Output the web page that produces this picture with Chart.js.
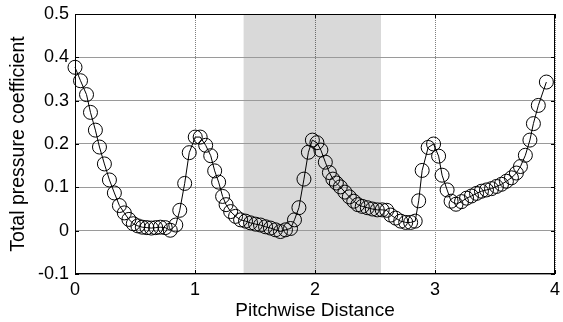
<!DOCTYPE html>
<html>
<head>
<meta charset="utf-8">
<script src="https://cdn.jsdelivr.net/npm/chart.js@4.4.0/dist/chart.umd.min.js"></script>
<style>
    html, body { margin: 0; padding: 0; background: #fff; }
    #wrap { width: 563px; height: 322px; }
</style>
</head>
<body>
<div id="wrap"><canvas id="pressureChart" width="563" height="322"></canvas></div>
<script>
// Measured total pressure coefficient along the pitch
var pitchwise = [
    0.000, 0.046, 0.096, 0.129, 0.170, 0.204, 0.245, 0.287, 0.328, 0.370,
    0.411, 0.449, 0.486, 0.524, 0.561, 0.599, 0.636, 0.673, 0.711, 0.752,
    0.794, 0.840, 0.873, 0.914, 0.952, 1.002, 1.043, 1.089, 1.131, 1.164,
    1.197, 1.230, 1.259, 1.297, 1.338, 1.380, 1.421, 1.463, 1.505, 1.546,
    1.588, 1.629, 1.671, 1.712, 1.754, 1.796, 1.829, 1.866, 1.908, 1.945,
    1.978, 2.016, 2.049, 2.086, 2.120, 2.149, 2.178, 2.211, 2.249, 2.286,
    2.323, 2.357, 2.394, 2.436, 2.477, 2.519, 2.560, 2.598, 2.631, 2.672,
    2.714, 2.756, 2.797, 2.835, 2.864, 2.893, 2.943, 2.988, 3.030, 3.059,
    3.101, 3.134, 3.175, 3.221, 3.263, 3.304, 3.346, 3.387, 3.429, 3.471,
    3.512, 3.554, 3.595, 3.637, 3.678, 3.712, 3.753, 3.791, 3.820, 3.861,
    3.928
];
var totalPressure = [
    0.377, 0.346, 0.314, 0.273, 0.232, 0.193, 0.154, 0.117, 0.087, 0.058,
    0.041, 0.026, 0.016, 0.011, 0.008, 0.007, 0.006, 0.007, 0.008, 0.007,
    0.001, 0.013, 0.047, 0.109, 0.180, 0.216, 0.216, 0.197, 0.173, 0.138,
    0.112, 0.079, 0.060, 0.044, 0.033, 0.025, 0.022, 0.018, 0.015, 0.013,
    0.009, 0.006, 0.002, -0.002, 0.002, 0.005, 0.025, 0.053, 0.119, 0.181,
    0.209, 0.203, 0.186, 0.158, 0.134, 0.119, 0.110, 0.101, 0.089, 0.078,
    0.068, 0.060, 0.056, 0.053, 0.050, 0.048, 0.048, 0.047, 0.036, 0.029,
    0.022, 0.019, 0.019, 0.022, 0.069, 0.139, 0.192, 0.200, 0.172, 0.128,
    0.094, 0.068, 0.061, 0.067, 0.075, 0.080, 0.086, 0.091, 0.094, 0.097,
    0.102, 0.107, 0.114, 0.122, 0.133, 0.148, 0.174, 0.209, 0.247, 0.289,
    0.343
];

var xTicks = [0, 1, 2, 3, 4];
var yTicks = [-0.1, 0, 0.1, 0.2, 0.3, 0.4, 0.5];

// Shaded pitch window
var bandStart = 1.405;
var bandEnd = 2.55;

var points = pitchwise.map(function(x, i) {
    return { x: x, y: totalPressure[i] };
});

var fontFamily = '"Liberation Sans", Arial, sans-serif';

// Background, shaded band, box frame and inward tick marks
var boxPlugin = {
    id: 'boxPlugin',
    beforeDraw: function(chart) {
        var ctx = chart.ctx;
        var area = chart.chartArea;
        var xs = chart.scales.x;
        ctx.save();
        ctx.fillStyle = '#ffffff';
        ctx.fillRect(0, 0, chart.width, chart.height);
        var x0 = xs.getPixelForValue(bandStart);
        var x1 = xs.getPixelForValue(bandEnd);
        ctx.fillStyle = '#d9d9d9';
        ctx.fillRect(x0, area.top, x1 - x0, area.bottom - area.top);
        ctx.restore();
    },
    afterDraw: function(chart) {
        var ctx = chart.ctx;
        var a = chart.chartArea;
        var xs = chart.scales.x;
        var ys = chart.scales.y;
        var len = 4;
        ctx.save();
        ctx.strokeStyle = '#000';
        ctx.lineWidth = 1;
        ctx.beginPath();
        xTicks.forEach(function(v) {
            var px = Math.round(xs.getPixelForValue(v)) + 0.5;
            ctx.moveTo(px, a.bottom); ctx.lineTo(px, a.bottom - len);
            ctx.moveTo(px, a.top); ctx.lineTo(px, a.top + len);
        });
        yTicks.forEach(function(v) {
            var py = Math.round(ys.getPixelForValue(v)) + 0.5;
            ctx.moveTo(a.left, py); ctx.lineTo(a.left + len, py);
            ctx.moveTo(a.right, py); ctx.lineTo(a.right - len, py);
        });
        ctx.stroke();
        ctx.strokeRect(a.left + 0.5, a.top + 0.5, a.right - a.left - 1, a.bottom - a.top - 1);
        ctx.restore();
    }
};

new Chart(document.getElementById('pressureChart'), {
    type: 'scatter',
    data: {
        datasets: [{
            data: points,
            showLine: true,
            borderColor: '#000',
            borderWidth: 1,
            tension: 0,
            pointStyle: 'circle',
            pointRadius: 7,
            pointBorderColor: '#000',
            pointBorderWidth: 1,
            pointBackgroundColor: 'rgba(0,0,0,0)',
            clip: false
        }]
    },
    options: {
        responsive: false,
        animation: false,
        devicePixelRatio: 1,
        layout: { padding: { left: 0, right: 6, top: 14, bottom: 0 } },
        plugins: {
            legend: { display: false },
            tooltip: { enabled: false }
        },
        scales: {
            x: {
                type: 'linear',
                min: 0,
                max: 4,
                afterBuildTicks: function(scale) {
                    scale.ticks = xTicks.map(function(v) { return { value: v }; });
                },
                afterFit: function(scale) {
                    scale.height = 48;
                    scale.paddingLeft = 0;
                    scale.paddingRight = 0;
                },
                grid: {
                    color: 'rgba(0,0,0,0.5)',
                    lineWidth: 1,
                    drawTicks: false
                },
                border: { display: false, dash: [1, 1] },
                ticks: {
                    color: '#000',
                    padding: 5,
                    font: { family: fontFamily, size: 18 }
                },
                title: {
                    display: true,
                    text: 'Pitchwise Distance',
                    color: '#000',
                    font: { family: fontFamily, size: 19 },
                    padding: { top: 0, bottom: 0 }
                }
            },
            y: {
                type: 'linear',
                min: -0.1,
                max: 0.5,
                afterBuildTicks: function(scale) {
                    scale.ticks = yTicks.map(function(v) { return { value: v }; });
                },
                afterFit: function(scale) {
                    scale.width = 75;
                    scale.paddingTop = 0;
                    scale.paddingBottom = 0;
                },
                grid: {
                    color: '#9a9a9a',
                    lineWidth: 1,
                    drawTicks: false
                },
                border: { display: false },
                ticks: {
                    color: '#000',
                    padding: 6,
                    font: { family: fontFamily, size: 18 }
                },
                title: {
                    display: true,
                    text: 'Total pressure coefficient',
                    color: '#000',
                    font: { family: fontFamily, size: 19.5 },
                    padding: { top: 7, bottom: 0 }
                }
            }
        }
    },
    plugins: [boxPlugin]
});
</script>
</body>
</html>
